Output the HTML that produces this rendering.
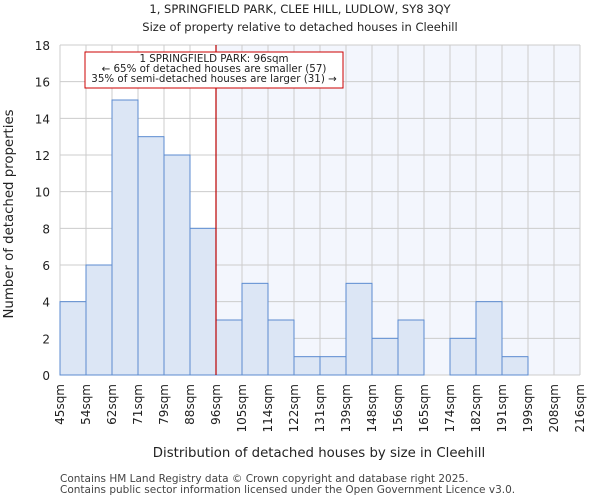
<!DOCTYPE html>
<html><head><meta charset="utf-8"><style>
body{margin:0;background:#fff;font-family:"DejaVu Sans","Liberation Sans",sans-serif}
svg text{font-family:"DejaVu Sans","Liberation Sans",sans-serif;fill:#222}
</style></head><body>
<svg id="c" width="600" height="500">
<text x="300" y="13" text-anchor="middle" font-size="11.5">1, SPRINGFIELD PARK, CLEE HILL, LUDLOW, SY8 3QY</text>
<text x="300" y="31" text-anchor="middle" font-size="11.5">Size of property relative to detached houses in Cleehill</text>
<g id="g"></g>
<text x="319" y="457" text-anchor="middle" font-size="13.3">Distribution of detached houses by size in Cleehill</text>
<text transform="translate(13,214) rotate(-90)" text-anchor="middle" font-size="13.3">Number of detached properties</text>
<text x="60" y="482" font-size="10.5" style="fill:#444">Contains HM Land Registry data © Crown copyright and database right 2025.</text>
<text x="60" y="493" font-size="10.5" style="fill:#444">Contains public sector information licensed under the Open Government Licence v3.0.</text>
</svg>
<script>
const categories=["45sqm","54sqm","62sqm","71sqm","79sqm","88sqm","96sqm","105sqm","114sqm","122sqm","131sqm","139sqm","148sqm","156sqm","165sqm","174sqm","182sqm","191sqm","199sqm","208sqm","216sqm"];
const values=[4,6,15,13,12,8,3,5,3,1,1,5,2,3,0,2,4,1,0,0];
const yTicks=[0,2,4,6,8,10,12,14,16,18];
const markerIndex=6;
const annotation=["1 SPRINGFIELD PARK: 96sqm","← 65% of detached houses are smaller (57)","35% of semi-detached houses are larger (31) →"];
const L=60,R=580,T=45,B=375,NS="http://www.w3.org/2000/svg";
const n=values.length,bw=(R-L)/n;
const x=i=>L+i*bw, y=v=>B-v/18*(B-T);
const g=document.getElementById('g');
function mk(t,a){const e=document.createElementNS(NS,t);for(const k in a)e.setAttribute(k,a[k]);g.appendChild(e);return e;}
let e=mk('rect',{x:x(markerIndex),y:T,width:R-x(markerIndex),height:B-T,fill:'#f3f6fd'});


for(const t of yTicks){e=mk('line',{x1:L,x2:R,y1:y(t),y2:y(t),stroke:'#ccc','stroke-width':1});


e=mk('text',{x:50,y:y(t)+5,'text-anchor':'end','font-size':12});e.textContent=t;

}
for(let i=0;i<categories.length;i++){e=mk('line',{x1:x(i),x2:x(i),y1:T,y2:B,stroke:'#ccc','stroke-width':1});


const xi=x(i)+4;e=mk('text',{x:xi,y:384,'text-anchor':'end','font-size':12,transform:`rotate(-90 ${xi} 384)`});e.textContent=categories[i];

}
values.forEach((v,i)=>{if(v<=0)return;e=mk('rect',{x:x(i),y:y(v),width:bw,height:B-y(v),fill:'#dce6f5',stroke:'#5b8bd0','stroke-width':1});

});
e=mk('line',{x1:x(markerIndex),x2:x(markerIndex),y1:T,y2:B,stroke:'#b00','stroke-width':1.2});


e=mk('rect',{x:85,y:52,width:258,height:36,fill:'#fff',stroke:'#c00','stroke-width':1});


annotation.forEach((s,k)=>{e=mk('text',{x:214,y:62+k*10,'text-anchor':'middle','font-size':10.3});e.textContent=s;

});
</script>
</body></html>
